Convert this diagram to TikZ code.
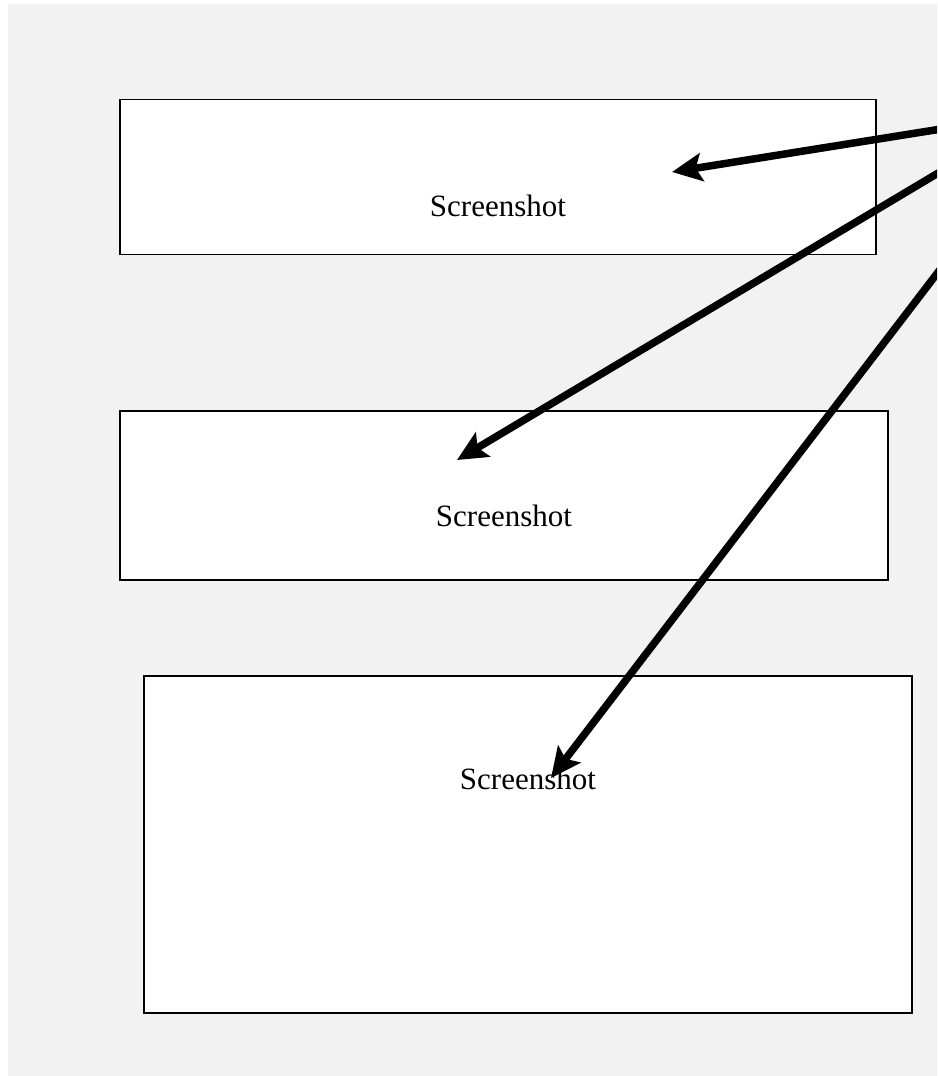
\documentclass[tikz,border=0pt]{standalone}
\usepackage{fontspec}
\setmainfont{Liberation Serif}
\usetikzlibrary{arrows.meta}
\definecolor{bggray}{HTML}{F2F2F2}
\tikzset{
  shotbox/.style={draw=black, fill=white, line width=1.5pt, inner sep=0pt},
  shotlabel/.style={font=\fontsize{31}{36}\selectfont, inner sep=0pt},
  pointer/.style={line width=7.5pt, -{Stealth[length=30pt, width=28pt, inset=6pt]}}
}
\begin{document}
\begin{tikzpicture}[x=1pt,y=-1pt]
\useasboundingbox (0,0) rectangle (937,1076);
\clip (0,0) rectangle (937,1076);
\fill[bggray] (8,4) rectangle (937,1076);
% boxes
\node[shotbox, minimum width=756pt, minimum height=155pt] (b1) at (498,177) {};
\node[shotbox, minimum width=768pt, minimum height=169pt] (b2) at (504,495.5) {};
\node[shotbox, minimum width=768pt, minimum height=337pt] (b3) at (528,844.5) {};
% labels
\node[shotlabel] (t1) at (498,206) {Screenshot};
\node[shotlabel] (t2) at (504,516) {Screenshot};
\node[shotlabel] (t3) at (528,779) {Screenshot};
% arrow ends
\coordinate (s1) at (960,126);
\coordinate (s2) at (960,160);
\coordinate (s3) at (955,250);
\coordinate (e1) at (672,172);
\coordinate (e2) at (457,460);
\coordinate (e3) at (551,778);
\draw[pointer] (s1) -- (e1);
\draw[pointer] (s2) -- (e2);
\draw[pointer] (s3) -- (e3);
\end{tikzpicture}
\end{document}
